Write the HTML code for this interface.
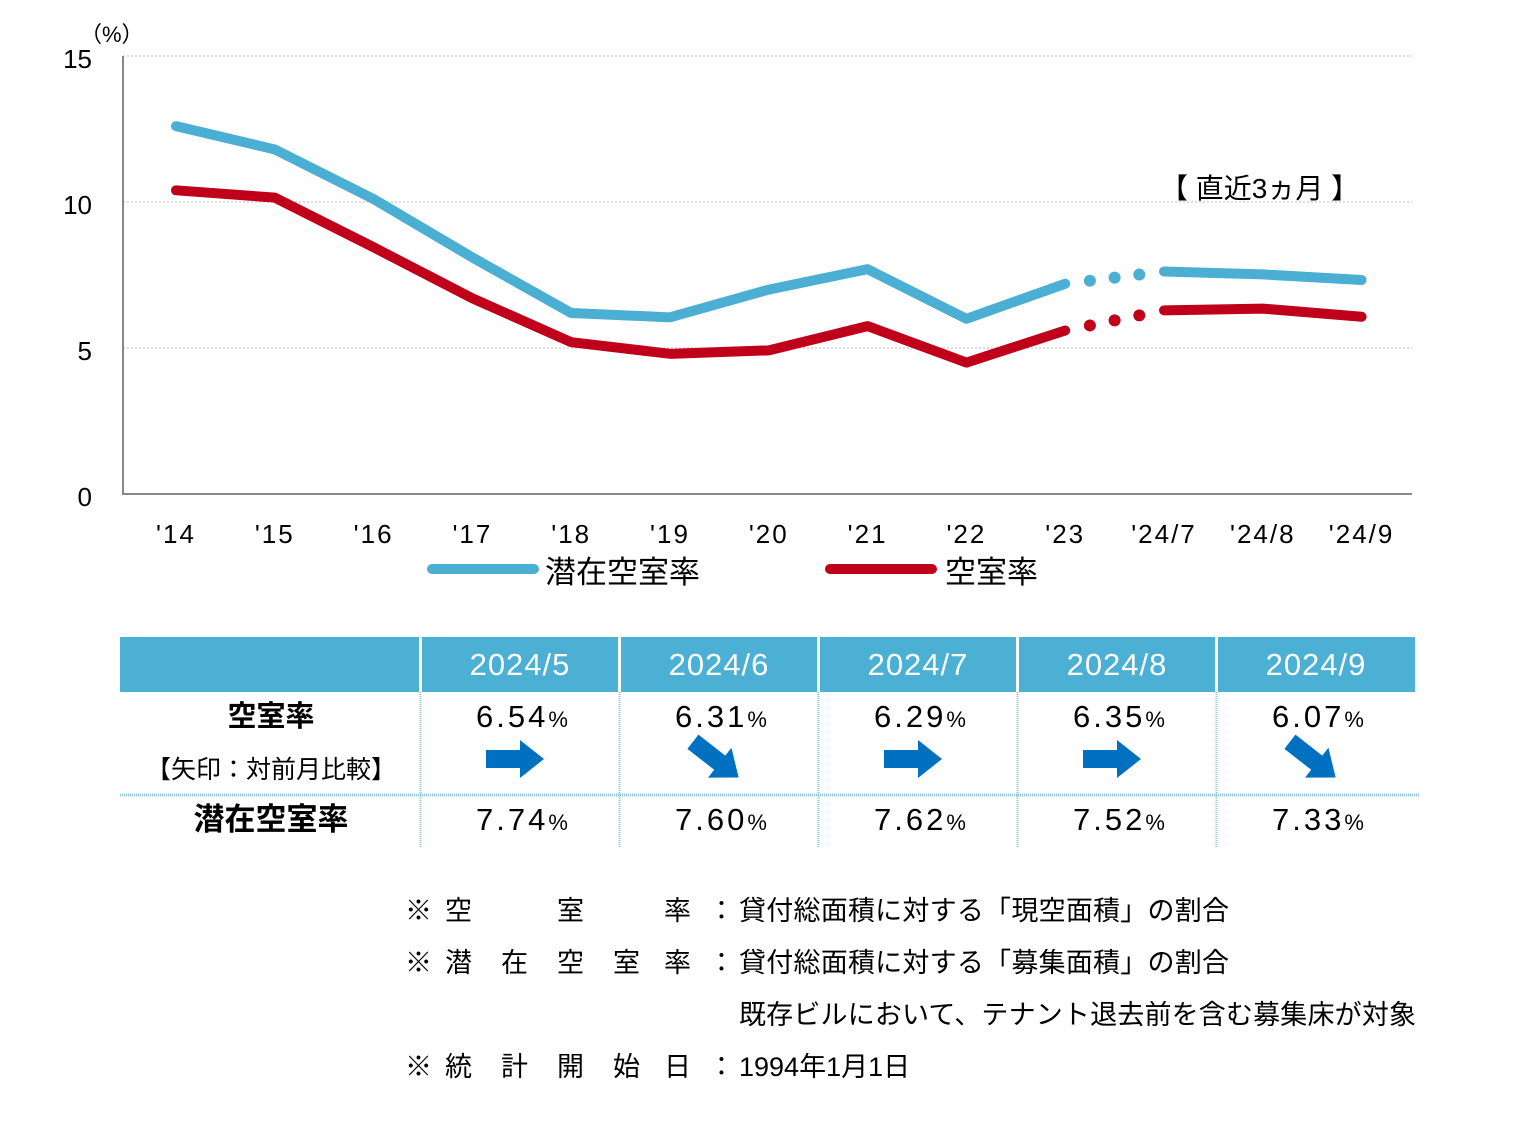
<!DOCTYPE html>
<html><head><meta charset="utf-8"><style>
html,body{margin:0;padding:0;background:#fff;}
svg{display:block;font-family:"Liberation Sans","Noto Sans CJK JP",sans-serif;}
</style></head><body>
<svg id="chart" width="1540" height="1148" viewBox="0 0 1540 1148" xmlns="http://www.w3.org/2000/svg">
<g id="grid"></g>
<g id="axes"></g>
<g id="lines"></g>
<text x="80" y="42" font-size="22" fill="#000">（%）</text>
<text x="1160" y="198" font-size="28" fill="#000">【 直近3ヵ月 】</text>
<g>
  <line x1="432" y1="569" x2="534" y2="569" stroke="#4BAFD3" stroke-width="10" stroke-linecap="round"/>
  <text x="545" y="583" font-size="31">潜在空室率</text>
  <line x1="830" y1="569" x2="932" y2="569" stroke="#C0001A" stroke-width="10" stroke-linecap="round"/>
  <text x="945" y="583" font-size="31">空室率</text>
</g>
<g id="table"></g>
<g font-size="27" fill="#000">
  <text x="405" y="920">※</text><text x="445" y="920">空</text><text x="557" y="920">室</text><text x="664" y="920">率</text><text x="708" y="920">：</text><text x="739" y="920" textLength="490">貸付総面積に対する「現空面積」の割合</text>
  <text x="405" y="972">※</text><text x="445" y="972">潜</text><text x="501" y="972">在</text><text x="557" y="972">空</text><text x="613" y="972">室</text><text x="664" y="972">率</text><text x="708" y="972">：</text><text x="739" y="972" textLength="490">貸付総面積に対する「募集面積」の割合</text>
  <text x="739" y="1024" textLength="677">既存ビルにおいて、テナント退去前を含む募集床が対象</text>
  <text x="405" y="1076">※</text><text x="445" y="1076">統</text><text x="501" y="1076">計</text><text x="557" y="1076">開</text><text x="613" y="1076">始</text><text x="664" y="1076">日</text><text x="708" y="1076">：</text><text x="739" y="1076">1994年1月1日</text>
</g>
</svg>
<script>
const categories = ["'14","'15","'16","'17","'18","'19","'20","'21","'22","'23","'24/7","'24/8","'24/9"];
const potentialRate = [12.6,11.8,10.1,8.1,6.2,6.05,7.0,7.7,6.0,7.2,7.62,7.52,7.33];
const vacancyRate = [10.4,10.15,8.45,6.7,5.2,4.8,4.92,5.75,4.5,5.6,6.29,6.35,6.07];
const yTicks = [0,5,10,15];
const tableMonths = ["2024/5","2024/6","2024/7","2024/8","2024/9"];
const tableVacancy = ["6.54","6.31","6.29","6.35","6.07"];
const tablePotential = ["7.74","7.60","7.62","7.52","7.33"];
const tableTrend = ["flat","down","flat","flat","down"];

const NS="http://www.w3.org/2000/svg";
function mk(tag,attrs,parent){const e=document.createElementNS(NS,tag);for(const k in attrs)e.setAttribute(k,attrs[k]);parent.appendChild(e);return e;}
const xS=i=>176+i*98.8;
const yS=v=>494-v*29.2;
const grid=document.getElementById('grid'),axes=document.getElementById('axes'),lines=document.getElementById('lines');
yTicks.forEach(t=>{
  if(t>0){const g=mk('line',{x1:123,x2:1412,y1:yS(t),y2:yS(t),stroke:'#bbb','stroke-width':1,'stroke-dasharray':'2 2'},grid);
  
  }
  const tx=mk('text',{x:92,y:yS(t)+12,'text-anchor':'end','font-size':26},axes);tx.textContent=t;
  
  
});
const ax=mk('path',{d:'M123 56 V494 H1412',fill:'none',stroke:'#888','stroke-width':2},axes);


categories.forEach((c,i)=>{
  const tx=mk('text',{x:xS(i),y:543,'text-anchor':'middle','font-size':26,'letter-spacing':'2'},axes);tx.textContent=c;
  
  
});
function series(vals,color,name){
  const p1=vals.slice(0,10).map((v,i)=>(i?'L':'M')+xS(i)+' '+yS(v)).join(' ');
  const a=mk('path',{d:p1,fill:'none',stroke:color,'stroke-width':10,'stroke-linecap':'round','stroke-linejoin':'round'},lines);
  
  
  const p2=vals.slice(10).map((v,i)=>(i?'L':'M')+xS(i+10)+' '+yS(v)).join(' ');
  const b=mk('path',{d:p2,fill:'none',stroke:color,'stroke-width':10,'stroke-linecap':'round','stroke-linejoin':'round'},lines);
  
  
  const x0=xS(9),y0=yS(vals[9]),x1=xS(10),y1=yS(vals[10]);
  const n=4;
  for(let k=1;k<n;k++){
    const t=k/n;
    const d=mk('circle',{cx:x0+(x1-x0)*t,cy:y0+(y1-y0)*t,r:6,fill:color},lines);
    
    
  }
}
series(potentialRate,'#4BAFD3','potential');
series(vacancyRate,'#C0001A','vacancy');

// table
const tb=document.getElementById('table');
const colX=[422,621,820,1019,1218],colW=196;
const hb=mk('rect',{x:120,y:637,width:1295,height:55,fill:'#4BB0D3'},tb);


colX.forEach((x,i)=>{
  const sep=mk('line',{x1:x-1.5,x2:x-1.5,y1:637,y2:692,stroke:'#fff','stroke-width':3},tb);
  
  
  const vl=mk('line',{x1:x-1.5,x2:x-1.5,y1:692,y2:848,stroke:'#8cc7dd','stroke-width':2,'stroke-dasharray':'1 1'},tb);
  
  
  const cx=x+colW/2;
  const h=mk('text',{x:cx,y:675,'text-anchor':'middle','font-size':31,fill:'#fff','letter-spacing':'1'},tb);h.textContent=tableMonths[i];
  
  
  const v=mk('text',{x:cx+2,y:727,'text-anchor':'middle','font-size':31,'letter-spacing':'3'},tb);
  v.innerHTML=tableVacancy[i]+'<tspan font-size="22" letter-spacing="0">%</tspan>';
  
  
  const p=mk('text',{x:cx+2,y:830,'text-anchor':'middle','font-size':31,'letter-spacing':'3'},tb);
  p.innerHTML=tablePotential[i]+'<tspan font-size="22" letter-spacing="0">%</tspan>';
  
  
  const ay=759;
  const arr=mk('polygon',{points:'-28,-9 6,-9 6,-19 30,0 6,19 6,9 -28,9',fill:'#0071C1',transform:tableTrend[i]==='down'?`translate(${cx-4},${ay}) rotate(38)`:`translate(${cx-6},${ay})`},tb);
  
  
});
const hl=mk('line',{x1:120,x2:1420,y1:795,y2:795,stroke:'#8cc7dd','stroke-width':3,'stroke-dasharray':'1 1'},tb);


const l1=mk('text',{x:271,y:726,'text-anchor':'middle','font-size':29,'font-weight':'bold'},tb);l1.textContent='空室率';


const l2=mk('text',{x:271,y:778,'text-anchor':'middle','font-size':25},tb);l2.textContent='【矢印：対前月比較】';


const l3=mk('text',{x:271,y:830,'text-anchor':'middle','font-size':31,'font-weight':'bold'},tb);l3.textContent='潜在空室率';


</script>
</body></html>
